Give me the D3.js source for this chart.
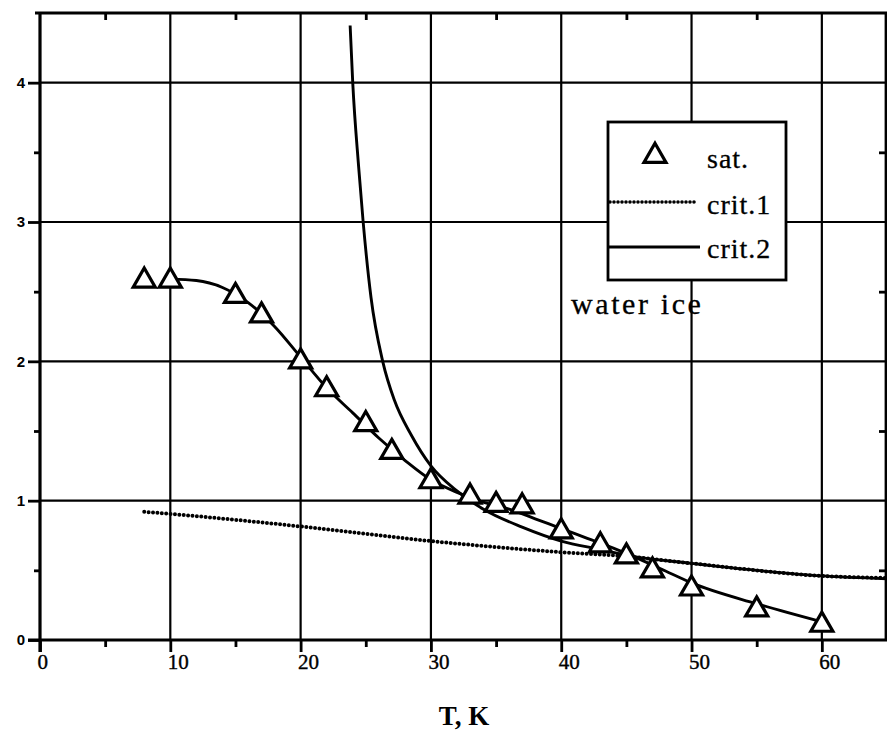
<!DOCTYPE html>
<html>
<head>
<meta charset="utf-8">
<script src="https://cdn.jsdelivr.net/npm/d3@7/dist/d3.min.js"></script>
<style>
  body { margin: 0; background: #fff; }
  svg { display: block; }
</style>
</head>
<body>
<script>
// saturation points (triangles)
var satT = [8, 10, 15, 17, 20, 22, 25, 27, 30, 33, 35, 37, 40, 43, 45, 47, 50, 55, 60];
var satV = [2.6, 2.6, 2.49, 2.35, 2.02, 1.82, 1.57, 1.37, 1.16, 1.05, 0.99, 0.98, 0.80, 0.70, 0.62, 0.52, 0.39, 0.24, 0.13];

// smooth curve drawn through the saturation points
var fitT = [10, 12, 14, 16, 18, 20, 22, 24, 26, 28, 30, 32, 34, 36, 38, 40, 42, 44, 46, 48, 50, 55, 60];
var fitV = [2.59, 2.58, 2.53, 2.42, 2.25, 2.03, 1.81, 1.63, 1.45, 1.29, 1.15, 1.06, 0.99, 0.94, 0.87, 0.80, 0.73, 0.66, 0.58, 0.495, 0.41, 0.26, 0.13];

// crit.1 (dotted)
var crit1T = [8, 10, 20, 30, 40, 45, 50, 60, 65];
var crit1V = [0.92, 0.905, 0.815, 0.71, 0.63, 0.60, 0.55, 0.46, 0.445];

// crit.2 (solid)
var crit2T = [23.8, 24.0, 24.45, 24.8, 25.4, 26.3, 27.2, 28.5, 30, 32, 34, 37, 40, 43, 45.5, 50, 55, 60, 65];
var crit2V = [4.41, 4.0, 3.4, 3.0, 2.46, 2.0, 1.72, 1.47, 1.25, 1.07, 0.94, 0.81, 0.71, 0.65, 0.60, 0.55, 0.50, 0.46, 0.44];

var xTicks = [0, 10, 20, 30, 40, 50, 60];
var xMinor = [5, 15, 25, 35, 45, 55];
var yTicks = [0, 1, 2, 3, 4];
var yMinor = [0.5, 1.5, 2.5, 3.5];
var legendLabels = ["sat.", "crit.1", "crit.2"];

var W = 887, H = 730;
var serif = "'Liberation Serif', 'Times New Roman', serif";
var x = d3.scaleLinear().domain([0, 65]).range([40, 887]);
var y = d3.scaleLinear().domain([0, 4.5]).range([640, 13]);

var svg = d3.select("body").append("svg").attr("width", W).attr("height", H);

// grid
svg.append("g").selectAll("line").data(xTicks.slice(1)).join("line")
  .attr("x1", d => x(d)).attr("x2", d => x(d))
  .attr("y1", y(4.5)).attr("y2", y(0))
  .attr("stroke", "#000").attr("stroke-width", 2.2);
svg.append("g").selectAll("line").data(yTicks.slice(1)).join("line")
  .attr("x1", x(0)).attr("x2", x(65))
  .attr("y1", d => y(d)).attr("y2", d => y(d))
  .attr("stroke", "#000").attr("stroke-width", 2.2);

// axes
var left = svg.append("g").attr("transform", "translate(" + x(0) + ",0)")
  .call(d3.axisLeft(y).tickValues(yTicks).tickSize(12).tickFormat(d3.format("d")));
svg.append("g").attr("transform", "translate(" + x(0) + ",0)")
  .call(d3.axisLeft(y).tickValues(yMinor).tickSize(6).tickFormat(""));
var bottom = svg.append("g").attr("transform", "translate(0," + y(0) + ")")
  .call(d3.axisBottom(x).tickValues(xTicks).tickSize(12).tickFormat(d3.format("d")));
svg.append("g").attr("transform", "translate(0," + y(0) + ")")
  .call(d3.axisBottom(x).tickValues(xMinor).tickSize(7).tickFormat(""));
svg.append("g").attr("transform", "translate(0," + y(4.5) + ")")
  .call(d3.axisBottom(x).tickValues(xMinor).tickSize(7).tickFormat(""));
svg.append("g").attr("transform", "translate(" + (x(65) - 1) + ",0)")
  .call(d3.axisLeft(y).tickValues(yMinor).tickSize(7).tickFormat(""));

svg.selectAll(".domain").remove();
svg.selectAll(".tick line").attr("stroke", "#000").attr("stroke-width", 2.8);

left.selectAll("text")
  .style("font-family", "'Liberation Sans', Arial, sans-serif")
  .style("font-weight", "bold").style("font-size", "15px").attr("fill", "#000")
  .attr("x", -15);
bottom.selectAll("text")
  .style("font-family", serif).style("font-size", "21px").attr("fill", "#000")
  .attr("stroke", "#000").attr("stroke-width", 0.4)
  .attr("text-anchor", "start").attr("dx", -3).attr("y", 14).attr("dy", "0.71em");

// frame lines
svg.append("line").attr("x1", 35).attr("x2", W).attr("y1", y(4.5)).attr("y2", y(4.5))
  .attr("stroke", "#000").attr("stroke-width", 3.2);
svg.append("line").attr("x1", 28).attr("x2", W).attr("y1", y(0)).attr("y2", y(0))
  .attr("stroke", "#000").attr("stroke-width", 3.2);
svg.append("line").attr("x1", x(0)).attr("x2", x(0)).attr("y1", y(4.5) - 1).attr("y2", y(0) + 12)
  .attr("stroke", "#000").attr("stroke-width", 3.2);
svg.append("line").attr("x1", x(65) - 1).attr("x2", x(65) - 1).attr("y1", y(4.5)).attr("y2", y(0))
  .attr("stroke", "#000").attr("stroke-width", 2.8);

// curves
var line = d3.line().x(d => x(d[0])).y(d => y(d[1])).curve(d3.curveMonotoneX);

svg.append("path").datum(d3.zip(crit1T, crit1V)).attr("d", line)
  .attr("fill", "none").attr("stroke", "#000").attr("stroke-width", 4)
  .attr("stroke-linecap", "round").attr("stroke-dasharray", "0,4.4");
svg.append("path").datum(d3.zip(crit2T, crit2V)).attr("d", line)
  .attr("fill", "none").attr("stroke", "#000").attr("stroke-width", 2.9);
svg.append("path").datum(d3.zip(fitT, fitV)).attr("d", line)
  .attr("fill", "none").attr("stroke", "#000").attr("stroke-width", 2.9);

var tri = d3.symbol().type(d3.symbolTriangle).size(210);
svg.append("g").selectAll("path").data(d3.zip(satT, satV)).join("path")
  .attr("transform", d => "translate(" + x(d[0]) + "," + (y(d[1]) + 3) + ")")
  .attr("d", tri).attr("fill", "#fff").attr("stroke", "#000").attr("stroke-width", 3.2);

// legend
var lg = svg.append("g");
lg.append("rect").attr("x", 608).attr("y", 122).attr("width", 178).attr("height", 158)
  .attr("fill", "#fff").attr("stroke", "#000").attr("stroke-width", 2.8);
lg.append("path").attr("transform", "translate(655,156)").attr("d", tri)
  .attr("fill", "#fff").attr("stroke", "#000").attr("stroke-width", 3.2);
lg.append("line").attr("x1", 610).attr("x2", 695).attr("y1", 202).attr("y2", 202)
  .attr("stroke", "#000").attr("stroke-width", 3.6).attr("stroke-linecap", "round").attr("stroke-dasharray", "0,4");
lg.append("line").attr("x1", 608).attr("x2", 700).attr("y1", 247).attr("y2", 247)
  .attr("stroke", "#000").attr("stroke-width", 2.9);
lg.selectAll("text").data(legendLabels).join("text")
  .attr("x", 707).attr("y", (d, i) => [168, 214, 258][i])
  .style("font-family", serif).style("font-size", "28px")
  .attr("stroke", "#000").attr("stroke-width", 0.3)
  .attr("letter-spacing", 1).text(d => d);

svg.append("text").attr("x", 571).attr("y", 314)
  .style("font-family", serif).style("font-size", "30px")
  .attr("stroke", "#000").attr("stroke-width", 0.3)
  .attr("letter-spacing", 2.6).text("water ice");

svg.append("text").attr("x", 464).attr("y", 725).attr("text-anchor", "middle")
  .style("font-family", serif).style("font-size", "27px")
  .style("font-weight", "bold").text("T, K");
</script>
</body>
</html>
